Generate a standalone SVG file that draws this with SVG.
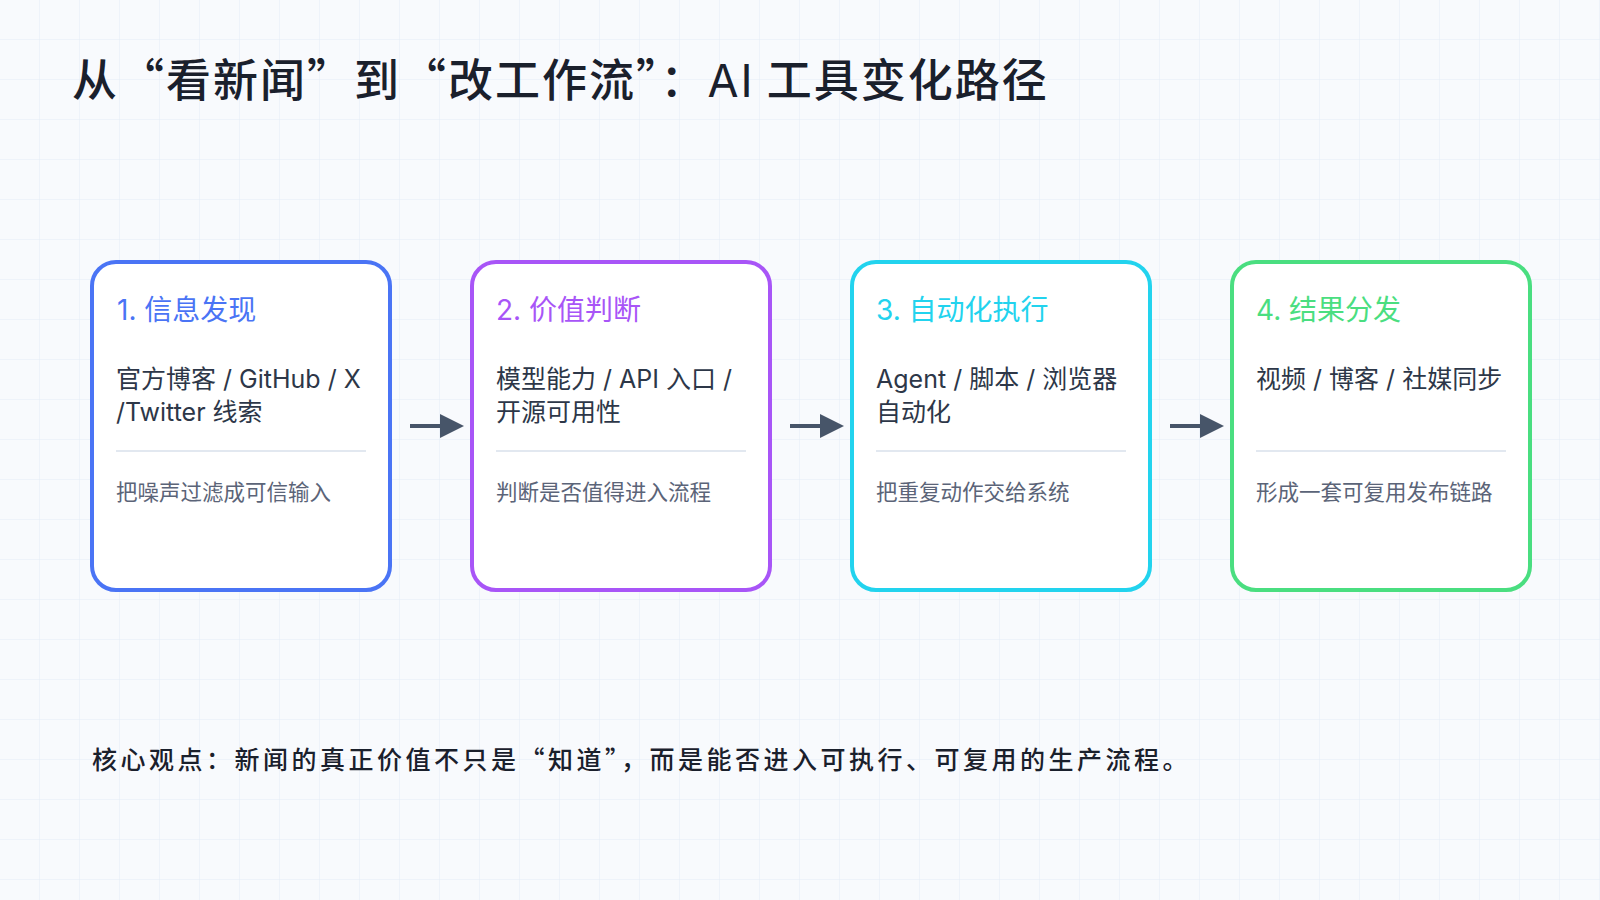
<svg xmlns="http://www.w3.org/2000/svg" width="1600" height="900" viewBox="0 0 1600 900">
<defs>
<pattern id="grid" width="40" height="40" patternUnits="userSpaceOnUse"><path d="M40 0V40M0 40H40" fill="none" stroke="#e5ecf6" stroke-width="1"/></pattern>
<marker id="ah" markerWidth="6" markerHeight="6" refX="5" refY="3" orient="auto" markerUnits="strokeWidth"><path d="M0 0L6 3L0 6Z" fill="#475569"/></marker>
<style>
text{font-family:Inter,"Noto Sans CJK SC",sans-serif}
.cjk{font-family:"Noto Sans CJK SC",sans-serif}
.card{fill:#fff;stroke-width:4}
.ct{font-size:28px}
.body{font-size:25px;fill:#2d3748}
.cap{font-size:21.5px;fill:#5b6478}
.div{stroke:#e2e8f0;stroke-width:2}
.conn{stroke:#475569;stroke-width:4;fill:none;marker-end:url(#ah)}
</style>
</defs>
<rect width="1600" height="900" fill="#f8fafd"/>
<rect width="1600" height="900" fill="url(#grid)"/>
<text class="cjk" x="72" y="97" font-size="45" font-weight="500" letter-spacing="2" fill="#1a202c">从“看新闻”到“改工作流”：<tspan font-family="Inter" font-weight="400">AI</tspan> 工具变化路径</text>
<g id="node1"><rect class="card" x="92" y="262" width="298" height="328" rx="24" stroke="#4a74f5"/>
<text class="ct" x="117" y="320" fill="#4a74f5">1. 信息发现</text>
<text class="body" x="116" y="388">官方博客 / GitHub / X</text><text class="body" x="116" y="421">/Twitter 线索</text>
<line class="div" x1="116" y1="451" x2="366" y2="451"/><text class="cap" x="116" y="500">把噪声过滤成可信输入</text></g>
<g id="node2"><rect class="card" x="472" y="262" width="298" height="328" rx="24" stroke="#a855f7"/>
<text class="ct" x="496" y="320" fill="#a855f7">2. 价值判断</text>
<text class="body" x="496" y="388">模型能力 / API 入口 /</text><text class="body" x="496" y="421">开源可用性</text>
<line class="div" x1="496" y1="451" x2="746" y2="451"/><text class="cap" x="496" y="500">判断是否值得进入流程</text></g>
<g id="node3"><rect class="card" x="852" y="262" width="298" height="328" rx="24" stroke="#22d3ee"/>
<text class="ct" x="876" y="320" fill="#22d3ee">3. 自动化执行</text>
<text class="body" x="876" y="388">Agent / 脚本 / 浏览器</text><text class="body" x="876" y="421">自动化</text>
<line class="div" x1="876" y1="451" x2="1126" y2="451"/><text class="cap" x="876" y="500">把重复动作交给系统</text></g>
<g id="node4"><rect class="card" x="1232" y="262" width="298" height="328" rx="24" stroke="#4ade80"/>
<text class="ct" x="1256" y="320" fill="#4ade80">4. 结果分发</text>
<text class="body" x="1256" y="388">视频 / 博客 / 社媒同步</text>
<line class="div" x1="1256" y1="451" x2="1506" y2="451"/><text class="cap" x="1256" y="500">形成一套可复用发布链路</text></g>
<g id="connectors">
<line class="conn" x1="410" y1="426" x2="460" y2="426"/>
<line class="conn" x1="790" y1="426" x2="840" y2="426"/>
<line class="conn" x1="1170" y1="426" x2="1220" y2="426"/>
</g>
<text class="cjk" x="92" y="769" font-size="25" font-weight="500" letter-spacing="3.5" fill="#1a202c">核心观点：新闻的真正价值不只是“知道”，而是能否进入可执行、可复用的生产流程。</text>
</svg>
